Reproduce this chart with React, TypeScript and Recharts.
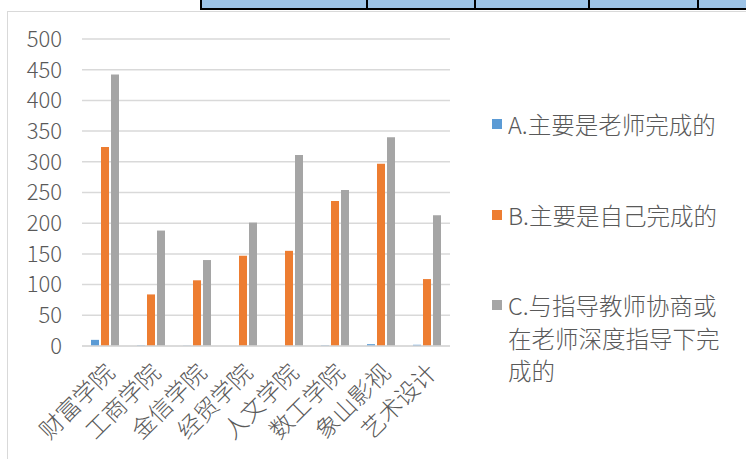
import React from 'react';
import { BarChart, Bar, XAxis, YAxis, CartesianGrid, Legend } from 'recharts';

const categories = ['财富学院', '工商学院', '金信学院', '经贸学院', '人文学院', '数工学院', '象山影视', '艺术设计'];
const seriesNames = ['A.主要是老师完成的', 'B.主要是自己完成的', 'C.与指导教师协商或在老师深度指导下完成的'];
const teacherDone = [10, 1, 0.5, 0, 0, 1, 3, 2];
const selfDone = [324, 84, 107, 147, 155, 236, 297, 109];
const guidedDone = [442, 188, 140, 201, 311, 254, 340, 213];
const yTicks = [0, 50, 100, 150, 200, 250, 300, 350, 400, 450, 500];

const colors = ['#5B9BD5', '#ED7D31', '#A5A5A5'];
const font = '"Noto Sans CJK SC", "Noto Sans", sans-serif';
const textColor = '#595959';

const data = categories.map((name, i) => ({
  name,
  a: teacherDone[i],
  b: selfDone[i],
  c: guidedDone[i],
}));

const XTick = (props: any) => {
  const { x, y, payload } = props;
  return (
    <text
      x={0}
      y={0}
      transform={`translate(${x + 4},${y + 21}) rotate(-45)`}
      textAnchor="end"
      dominantBaseline="central"
      fill={textColor}
      fontSize={23.5}
      fontWeight={300}
      fontFamily={font}
    >
      {payload.value}
    </text>
  );
};

const renderLegend = (props: any) => (
  <div
    style={{
      fontFamily: font,
      fontSize: 23.5,
      fontWeight: 300,
      color: textColor,
      lineHeight: '32.5px',
      width: 250,
    }}
  >
    {props.payload.map((entry: any, i: number) => (
      <div key={i} style={{ display: 'flex', alignItems: 'flex-start', marginBottom: 58 }}>
        <span
          style={{ width: 10, height: 10, background: entry.color, marginTop: 11, marginRight: 6, flexShrink: 0 }}
        />
        <span style={{ width: 215 }}>{entry.value}</span>
      </div>
    ))}
  </div>
);

const tableLines = [366, 474, 588, 697];

export default function App() {
  return (
    <div style={{ position: 'absolute', left: 0, top: 0, width: 746, height: 459, overflow: 'hidden', background: '#fff' }}>
      {/* cut-off table strip above the chart */}
      <div
        style={{
          position: 'absolute',
          left: 200,
          top: 0,
          width: 600,
          height: 8,
          background: '#9DC3E6',
          borderLeft: '2px solid #000',
          borderBottom: '2px solid #000',
        }}
      />
      {tableLines.map((x) => (
        <div key={x} style={{ position: 'absolute', left: x, top: 0, width: 2, height: 10, background: '#000' }} />
      ))}
      {/* chart area frame */}
      <div
        style={{
          position: 'absolute',
          left: 7,
          top: 11,
          width: 800,
          height: 500,
          border: '1px solid #D9D9D9',
        }}
      />
      <div style={{ position: 'absolute', left: 0, top: 0 }}>
        <BarChart
          width={746}
          height={459}
          data={data}
          margin={{ top: 39, right: 296, bottom: 83, left: 0 }}
          barSize={8}
          barGap={2}
        >
          <CartesianGrid vertical={false} stroke="#D9D9D9" strokeWidth={1.5} />
          <XAxis
            dataKey="name"
            height={30}
            interval={0}
            tickLine={false}
            tickSize={0}
            tickMargin={0}
            axisLine={{ stroke: '#D9D9D9', strokeWidth: 1.5 }}
            tick={<XTick />}
          />
          <YAxis
            width={82}
            domain={[0, 500]}
            ticks={yTicks}
            interval={0}
            axisLine={false}
            tickLine={false}
            tickSize={0}
            tickMargin={20}
            tick={{ fill: textColor, fontSize: 22, fontWeight: 300, fontFamily: font }}
          />
          <Legend
            layout="horizontal"
            verticalAlign="middle"
            align="center"
            content={renderLegend}
            wrapperStyle={{ left: 492, top: 108, width: 254 }}
          />
          <Bar dataKey="a" name={seriesNames[0]} fill={colors[0]} isAnimationActive={false} />
          <Bar dataKey="b" name={seriesNames[1]} fill={colors[1]} isAnimationActive={false} />
          <Bar dataKey="c" name={seriesNames[2]} fill={colors[2]} isAnimationActive={false} />
        </BarChart>
      </div>
    </div>
  );
}
